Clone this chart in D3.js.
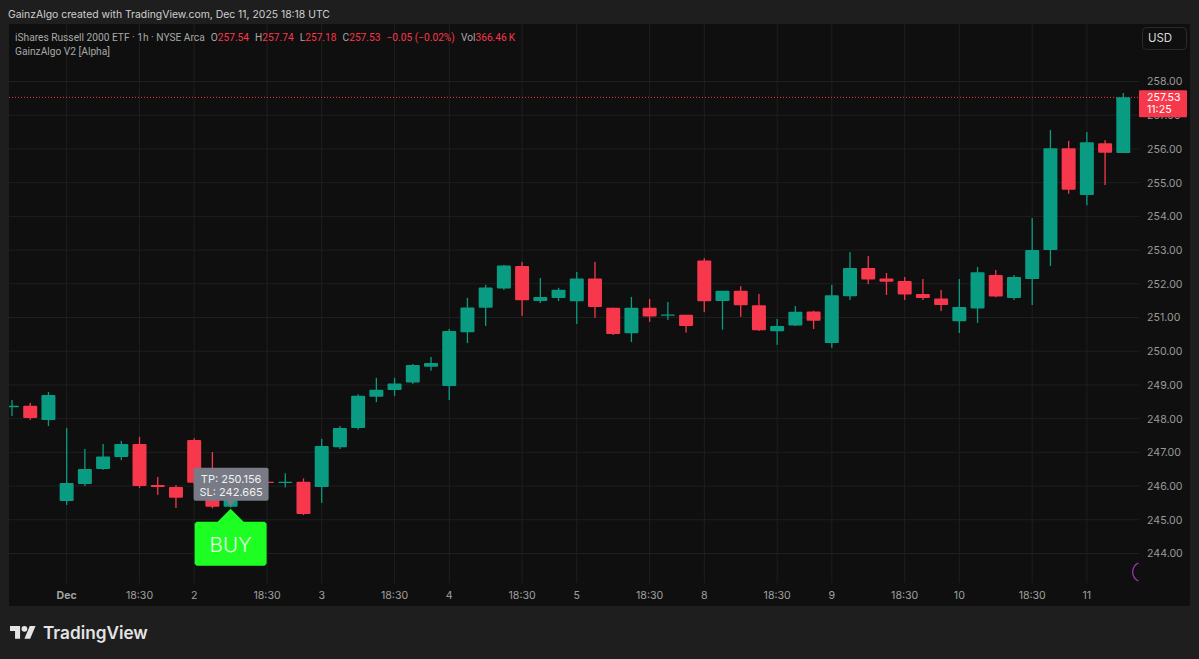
<!DOCTYPE html>
<html>
<head>
<meta charset="utf-8">
<title>IWM 1h</title>
<script src="https://cdn.jsdelivr.net/npm/d3@7/dist/d3.min.js"></script>
<style>
  html, body { margin: 0; padding: 0; background: #1e1e1e; overflow: hidden; }
  svg { display: block; }
  text { font-family: Inter, "Noto Sans", sans-serif; }
</style>
</head>
<body>
<svg id="chart" width="1199" height="659"></svg>
<script>
// one entry per hourly candle, left to right
var opens = [248.34,248.38,247.96,245.56,246.06,246.51,246.86,247.25,246.03,245.97,247.37,246.10,245.39,246.10,246.13,246.11,246.13,245.97,247.15,247.72,248.65,248.85,249.07,249.54,248.97,250.56,251.29,251.86,252.53,251.49,251.58,251.48,252.16,251.29,250.53,251.29,251.05,251.08,252.69,251.49,251.79,251.36,250.59,250.76,251.18,250.24,251.63,252.47,252.16,252.08,251.70,251.56,250.89,251.27,252.26,251.58,252.14,253.00,256.02,254.63,256.17,255.88];
var highs = [248.55,248.47,248.79,247.72,247.10,247.25,247.34,247.46,246.27,246.03,247.42,247.01,245.80,246.20,246.16,246.38,246.23,247.40,247.78,248.72,249.21,249.21,249.62,249.83,250.66,251.58,251.97,252.56,252.65,252.17,251.88,252.35,252.65,251.29,251.61,251.55,251.46,251.08,252.76,251.79,251.93,251.70,250.96,251.34,251.20,251.97,252.94,252.82,252.32,252.20,252.14,251.82,252.14,252.50,252.41,252.26,253.95,256.56,256.24,256.50,256.26,257.66];
var lows = [248.08,247.96,247.78,245.44,246.00,246.48,246.77,245.94,245.74,245.35,246.05,245.34,245.36,246.02,246.05,245.96,245.14,245.50,247.10,247.68,248.49,248.67,249.03,249.42,248.55,250.24,250.75,251.82,251.05,251.43,251.49,250.81,250.99,250.48,250.27,250.87,250.93,250.55,251.16,250.64,251.02,250.60,250.19,250.75,250.66,250.10,251.52,251.99,251.67,251.52,251.52,251.19,250.54,250.84,251.60,251.52,251.37,252.53,254.67,254.33,254.93,255.88];
var closes = [248.38,248.02,248.70,246.09,246.51,246.88,247.25,246.00,245.97,245.65,246.10,245.39,245.75,246.12,246.11,246.13,245.17,247.19,247.72,248.68,248.86,249.04,249.59,249.65,250.60,251.30,251.89,252.54,251.51,251.61,251.82,252.16,251.31,250.51,251.29,251.03,251.09,250.75,251.48,251.79,251.36,250.62,250.75,251.17,250.90,251.66,252.47,252.13,252.06,251.68,251.58,251.37,251.31,252.34,251.62,252.20,253.00,256.02,254.79,256.20,255.89,257.53];

var priceTicks = [244,245,246,247,248,249,250,251,252,253,254,255,256,257,258];
var timeTickIndex = [3,7,10,14,17,21,24,28,31,35,38,42,45,49,52,56,59];
var timeTickLabels = ["Dec","18:30","2","18:30","3","18:30","4","18:30","5","18:30","8","18:30","9","18:30","10","18:30","11"];

var lastPrice = 257.53;
var buyIndex = 12;
var buyPrice = 245.39;

var upColor = "#0a9c82",
    downColor = "#f7374b",
    paneColor = "#0f0f0f",
    gridColor = "#1f1f1f";

var svg = d3.select("#chart");

var x = d3.scaleLinear().domain([0, 61]).range([12, 1123.3]);
var y = d3.scaleLinear().domain([244, 258]).range([553.5, 81.5]);

var paneLeft = 9, paneTop = 24, paneRight = 1190, paneBottom = 606,
    plotRight = 1139, plotBottom = 583;

svg.append("clipPath").attr("id", "plotClip").append("rect")
    .attr("x", paneLeft).attr("y", paneTop)
    .attr("width", plotRight - paneLeft).attr("height", plotBottom - paneTop);

svg.append("rect")
    .attr("x", paneLeft).attr("y", paneTop)
    .attr("width", paneRight - paneLeft).attr("height", paneBottom - paneTop)
    .attr("fill", paneColor);

// grid
var grid = svg.append("g").attr("stroke", gridColor).attr("stroke-width", 1);
grid.selectAll(".h").data(priceTicks).enter().append("line")
    .attr("x1", paneLeft).attr("x2", plotRight)
    .attr("y1", function(d) { return y(d); }).attr("y2", function(d) { return y(d); });
grid.selectAll(".v").data(timeTickIndex).enter().append("line")
    .attr("x1", function(d) { return x(d); }).attr("x2", function(d) { return x(d); })
    .attr("y1", paneTop).attr("y2", plotBottom);

// price axis
var yAxis = d3.axisRight(y).tickValues(priceTicks).tickSize(0).tickPadding(0)
    .tickFormat(d3.format(".2f"));
var yG = svg.append("g").attr("transform", "translate(1147,0)").call(yAxis);
yG.select(".domain").remove();
yG.selectAll("text").attr("fill", "#9a9a9a").style("font-size", "10.6px");

// time axis
var xAxis = d3.axisBottom(x).tickValues(timeTickIndex).tickSize(0).tickPadding(0)
    .tickFormat(function(d, i) { return timeTickLabels[i]; });
var xG = svg.append("g").attr("transform", "translate(-0.5,591)").call(xAxis);
xG.select(".domain").remove();
xG.selectAll("text").attr("fill", "#a0a0a0").style("font-size", "10.6px")
    .style("font-weight", function(d, i) { return timeTickLabels[i] === "Dec" ? 700 : 400; });

// last price line
svg.append("line")
    .attr("x1", paneLeft).attr("x2", plotRight)
    .attr("y1", y(lastPrice)).attr("y2", y(lastPrice))
    .attr("stroke", downColor).attr("stroke-width", 1).attr("stroke-dasharray", "1 2");

// candles
var candles = svg.append("g").attr("clip-path", "url(#plotClip)")
    .selectAll("g").data(opens).enter().append("g")
    .attr("fill", function(d, i) { return closes[i] >= d ? upColor : downColor; });
candles.append("rect")
    .attr("x", function(d, i) { return x(i) - 0.65; })
    .attr("width", 1.3)
    .attr("y", function(d, i) { return y(highs[i]); })
    .attr("height", function(d, i) { return y(lows[i]) - y(highs[i]); });
candles.append("rect")
    .attr("x", function(d, i) { return x(i) - 7; })
    .attr("width", 14)
    .attr("rx", 1)
    .attr("y", function(d, i) { return y(Math.max(d, closes[i])); })
    .attr("height", function(d, i) { return Math.max(1.3, Math.abs(y(d) - y(closes[i]))); });

// purple session arc, cut off by the price axis
svg.append("g").attr("clip-path", "url(#plotClip)").append("path")
    .attr("d", d3.arc().innerRadius(9.2).outerRadius(10.4)
        .startAngle(-2.72).endAngle(-0.42)())
    .attr("transform", "translate(1142.5,572)")
    .attr("fill", "#a23bb5");

// BUY marker and its TP / SL label
var bx = x(buyIndex), by = y(buyPrice);
var tip = svg.append("g");
tip.append("rect")
    .attr("x", bx - 37).attr("y", by - 39).attr("width", 75).attr("height", 33).attr("rx", 2)
    .attr("fill", "#787b86");
tip.append("path")
    .attr("d", d3.line()([[bx - 4, by - 6], [bx, by], [bx + 4, by - 6]]))
    .attr("fill", "#787b86");
tip.selectAll("text").data(["TP: 250.156", "SL: 242.665"]).enter().append("text")
    .attr("x", bx + 0.5).attr("y", function(d, i) { return by - 24 + i * 13; })
    .attr("text-anchor", "middle").attr("fill", "#f0f0f0").style("font-size", "11px")
    .text(function(d) { return d; });

svg.append("path")
    .attr("d", d3.line()([[bx, by + 2], [bx + 13, by + 15], [bx + 34, by + 15], [bx + 36, by + 17],
        [bx + 36, by + 57], [bx + 34, by + 59], [bx - 34, by + 59], [bx - 36, by + 57],
        [bx - 36, by + 17], [bx - 34, by + 15], [bx - 13, by + 15]]))
    .attr("fill", "#1dff22");
svg.append("text")
    .attr("x", bx).attr("y", by + 45)
    .attr("text-anchor", "middle").attr("fill", "#e2ffe2")
    .style("font-size", "20.5px").style("font-weight", 300)
    .text("BUY");

// price tag on the axis
var tagY = y(lastPrice);
svg.append("rect")
    .attr("x", plotRight).attr("y", tagY - 7).attr("width", 48).attr("height", 27).attr("rx", 1)
    .attr("fill", downColor);
svg.append("text").attr("x", 1147).attr("y", tagY + 4)
    .attr("fill", "#ffffff").style("font-size", "10.6px").text("257.53");
svg.append("text").attr("x", 1147).attr("y", tagY + 16)
    .attr("fill", "#ffffff").style("font-size", "10.6px").text("11:25");

// USD button
svg.append("rect")
    .attr("x", 1142.5).attr("y", 27.5).attr("width", 44).attr("height", 22).attr("rx", 4)
    .attr("fill", "none").attr("stroke", "#2b2b2b");
svg.append("text").attr("x", 1160).attr("y", 42)
    .attr("text-anchor", "middle").attr("fill", "#d8d8d8").style("font-size", "11.5px").text("USD");

// header and legend
svg.append("text").attr("x", 8).attr("y", 18)
    .attr("fill", "#cfcfcf").style("font-size", "10.4px")
    .text("GainzAlgo created with TradingView.com, Dec 11, 2025 18:18 UTC");

var legendParts = [
    ["iShares Russell 2000 ETF \u00b7 1h \u00b7 NYSE Arca", "#a8a8a8", 0],
    ["O", "#a8a8a8", 6], ["257.54", downColor, 0],
    ["H", "#a8a8a8", 6], ["257.74", downColor, 0],
    ["L", "#a8a8a8", 6], ["257.18", downColor, 0],
    ["C", "#a8a8a8", 6], ["257.53", downColor, 0],
    ["\u22120.05 (\u22120.02%)", downColor, 6],
    ["Vol", "#a8a8a8", 6], ["366.46\u2009K", downColor, 0]
];
var legend = svg.append("text").attr("x", 15).attr("y", 41)
    .style("font-family", "Roboto, sans-serif").style("font-size", "10.2px");
legend.selectAll("tspan").data(legendParts).enter().append("tspan")
    .attr("dx", function(d) { return d[2]; })
    .attr("fill", function(d) { return d[1]; })
    .text(function(d) { return d[0]; });
svg.append("text").attr("x", 15).attr("y", 55)
    .attr("fill", "#a8a8a8").style("font-family", "Roboto, sans-serif").style("font-size", "10.2px")
    .text("GainzAlgo V2 [Alpha]");

// TradingView logo
var logo = svg.append("g").attr("transform", "translate(10,623) scale(0.72)").attr("fill", "#e4e4e4");
logo.append("path").attr("d", "M14 22H7V11H0V4h14v18zM28 22h-8l7.5-18h8L28 22z");
logo.append("circle").attr("cx", 20).attr("cy", 8).attr("r", 4);
svg.append("text").attr("x", 43).attr("y", 639)
    .attr("fill", "#e4e4e4").style("font-size", "17.2px").style("font-weight", 600)
    .text("TradingView");
</script>
</body>
</html>
